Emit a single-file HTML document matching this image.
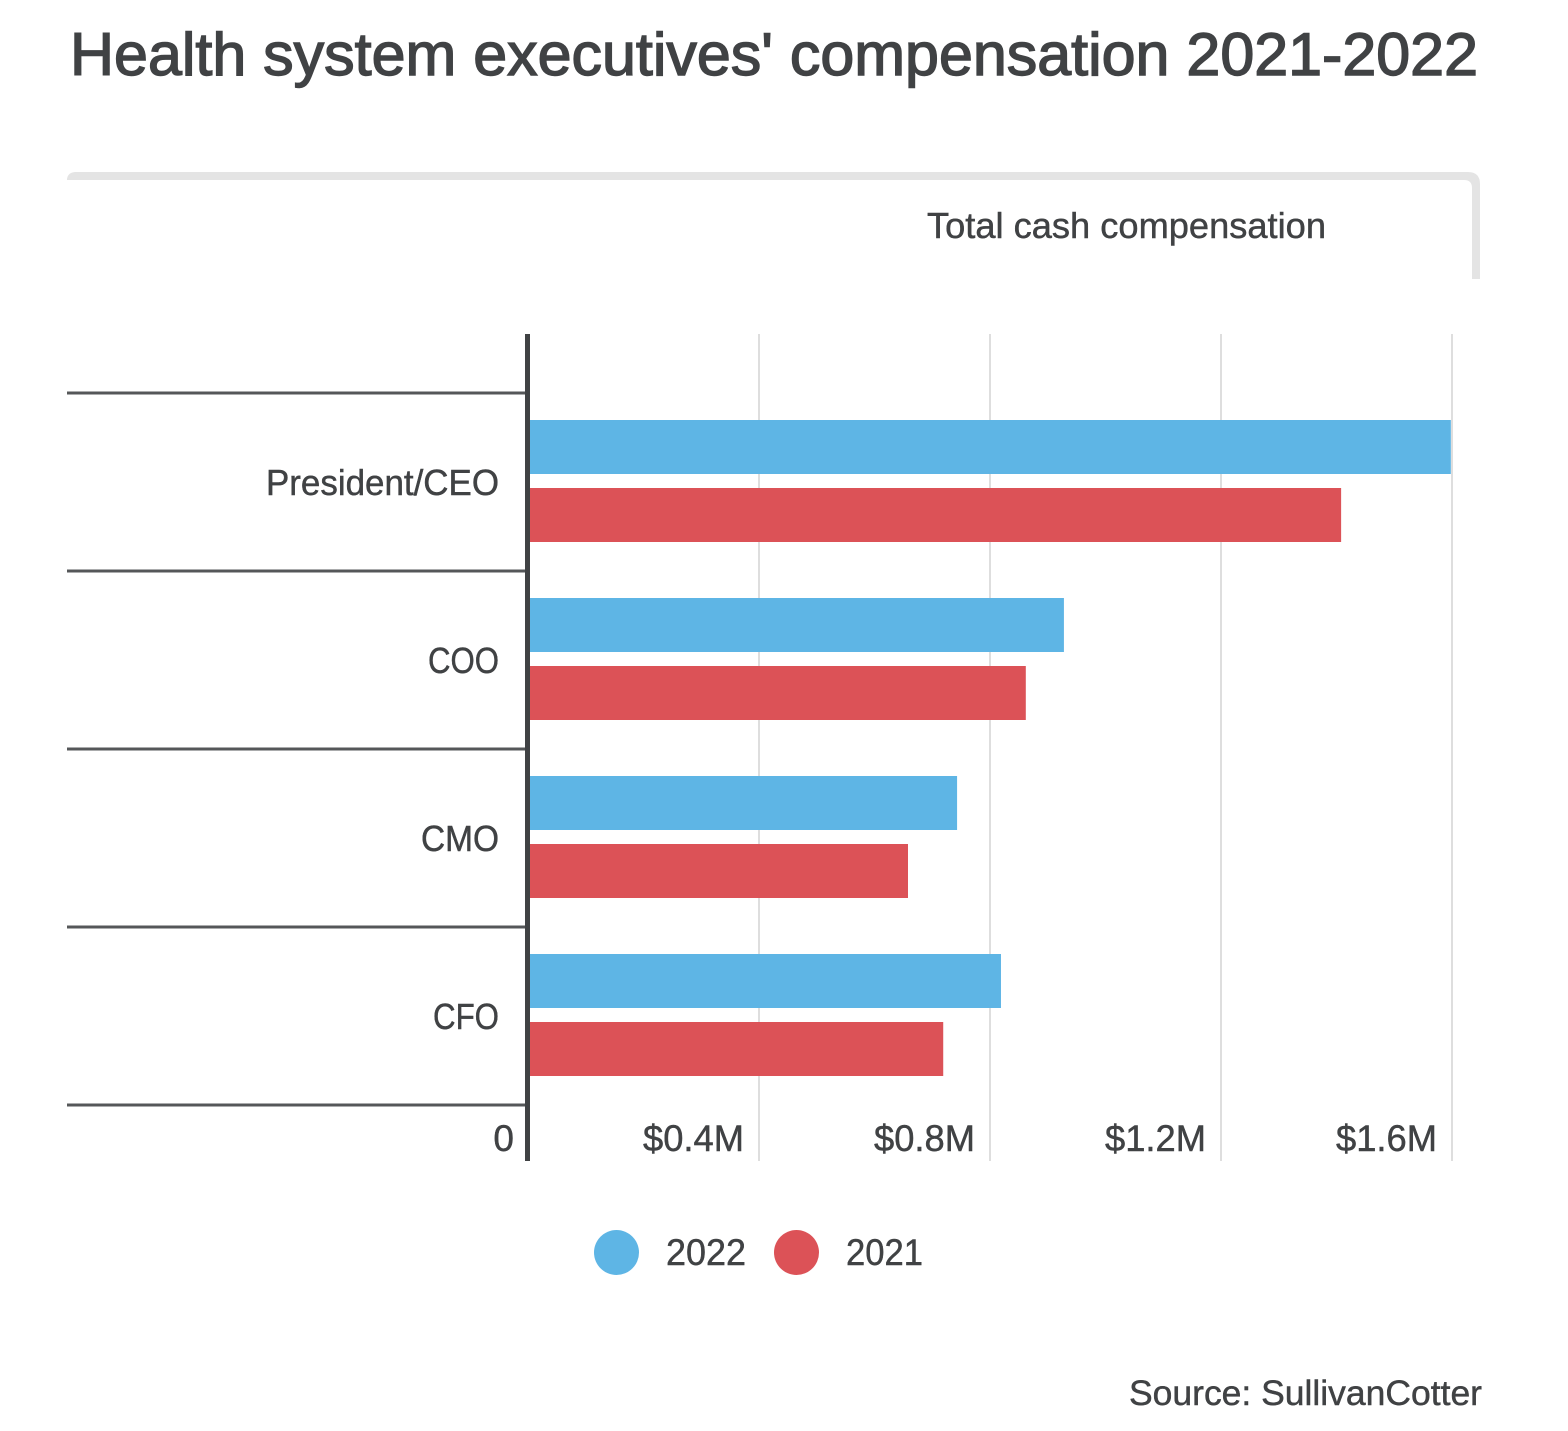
<!DOCTYPE html>
<html>
<head>
<meta charset="utf-8">
<title>Health system executives' compensation 2021-2022</title>
<style>
html,body{margin:0;padding:0;background:#fff;}
svg{display:block;}
text{font-family:"Liberation Sans",sans-serif;fill:#404244;stroke:#404244;stroke-width:0.45;}
</style>
</head>
<body>
<svg id="chart" xmlns="http://www.w3.org/2000/svg" width="1568" height="1431" viewBox="0 0 1568 1431">
  <text x="70" y="75" font-size="60" style="stroke-width:1.4" textLength="1408" lengthAdjust="spacingAndGlyphs">Health system executives' compensation 2021-2022</text>
  <path d="M67 180 V179 Q68 172 76 172 H1468 Q1480 172 1480 184 V279 H1472 V188 Q1472 180 1464 180 Z" fill="#e4e4e4"/>
  <text x="927" y="238" font-size="36" textLength="399" lengthAdjust="spacingAndGlyphs">Total cash compensation</text>
  <g id="grid"></g>
  <g id="separators"></g>
  <g id="bars"></g>
  <rect x="525" y="334" width="5" height="827" fill="#404244"/>
  <g id="xlabels"></g>
  <g id="ylabels"></g>
  <g>
    <g>
      <circle cx="616.5" cy="1252.5" r="22.5" fill="#5eb5e5"/>
      <text x="666" y="1265" font-size="37" textLength="80" lengthAdjust="spacingAndGlyphs">2022</text>
    </g>
    <g>
      <circle cx="796.5" cy="1252.5" r="22.5" fill="#dc5257"/>
      <text x="846" y="1265" font-size="37" textLength="77" lengthAdjust="spacingAndGlyphs">2021</text>
    </g>
  </g>
  <text x="1129" y="1405" font-size="35" textLength="353" lengthAdjust="spacingAndGlyphs">Source: SullivanCotter</text>
</svg>
<script>
const categories = ["President/CEO", "COO", "CMO", "CFO"];
const values2022 = [1.598, 0.928, 0.743, 0.819];
const values2021 = [1.408, 0.862, 0.658, 0.719];
const tickValues = [0.4, 0.8, 1.2, 1.6];
const tickLabels = ["$0.4M", "$0.8M", "$1.2M", "$1.6M"];

const NS = "http://www.w3.org/2000/svg";
const plotLeft = 528, pxPerMillion = 577.5;
const bandTop = 393, bandStep = 178;
const xScale = v => plotLeft + v * pxPerMillion;
const bandY = i => bandTop + i * bandStep;
/* The Liberation glyphs are wider than the reference face, so each label is fitted to its measured ink width. */
const labelInkWidth = {"President/CEO": 233, "COO": 71, "CMO": 78, "CFO": 66};

function make(tag, parent, attrs, content) {
  const el = document.createElementNS(NS, tag);
  for (const k in attrs) el.setAttribute(k, attrs[k]);
  if (content !== undefined) el.textContent = content;
  parent.appendChild(el);
  return el;
}
const grid = document.getElementById("grid");
const seps = document.getElementById("separators");
const barsG = document.getElementById("bars");
const xl = document.getElementById("xlabels");
const yl = document.getElementById("ylabels");

tickValues.forEach((t, i) => {
  const line = make("rect", grid, {x: xScale(t) - 1, y: 334, width: 2, height: 827, fill: "#dedede"});
  
  
  const lab = make("text", xl, {x: xScale(t) - 15, y: 1151, "font-size": 37, "text-anchor": "end", textLength: 101, lengthAdjust: "spacingAndGlyphs"}, tickLabels[i]);
  
  
});
const zero = make("text", xl, {x: 514, y: 1151, "font-size": 37, "text-anchor": "end"}, "0");



for (let i = 0; i <= categories.length; i++) {
  const s = make("rect", seps, {x: 67, y: bandY(i) - 1.5, width: 459, height: 3, fill: "#555759"});
  
  
}

categories.forEach((c, i) => {
  const a = make("rect", barsG, {x: plotLeft, y: bandY(i) + 27, width: xScale(values2022[i]) - plotLeft, height: 54, fill: "#5eb5e5"});
  
  
  const b = make("rect", barsG, {x: plotLeft, y: bandY(i) + 95, width: xScale(values2021[i]) - plotLeft, height: 54, fill: "#dc5257"});
  
  
  const attrs = {x: 499, y: bandY(i) + 102, "font-size": 36, "text-anchor": "end", lengthAdjust: "spacingAndGlyphs"};
  if (labelInkWidth[c]) attrs.textLength = labelInkWidth[c];
  const t = make("text", yl, attrs, c);
  
  
});
</script>
</body>
</html>
